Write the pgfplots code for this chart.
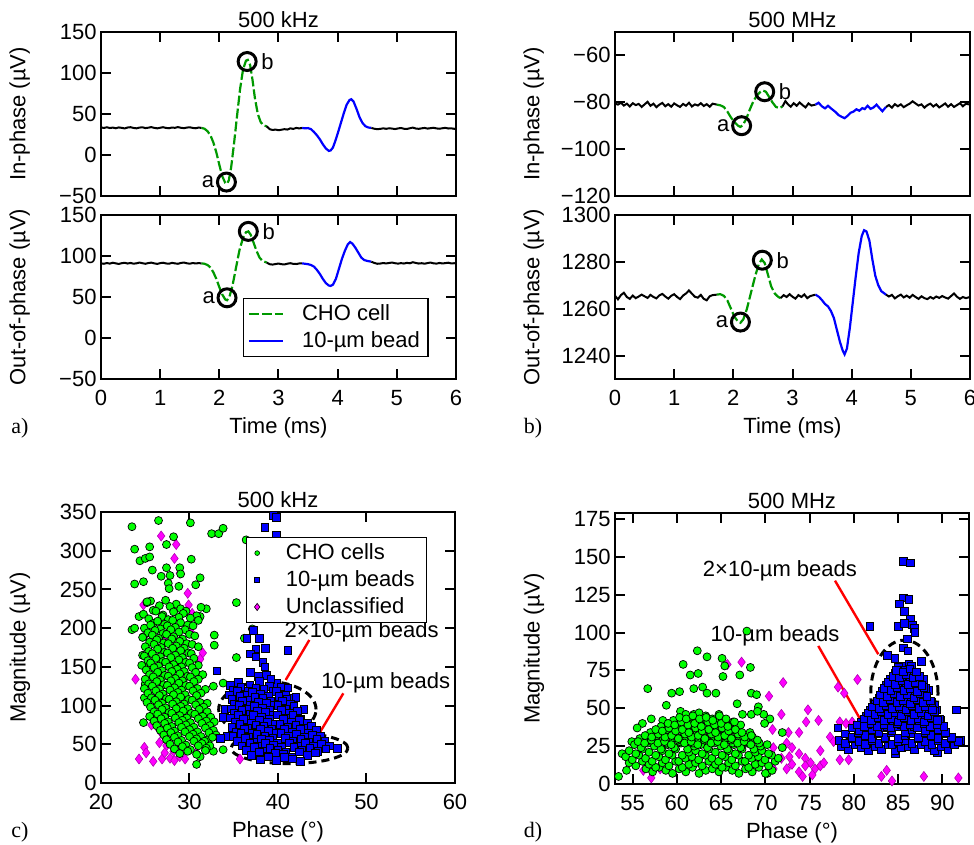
\documentclass[border=0pt]{standalone}
\usepackage{fontspec}
\setmainfont{Liberation Sans}
\newfontfamily\seriffont{Liberation Serif}
\usepackage{pgfplots}
\pgfplotsset{compat=1.18}

\definecolor{cgreen}{rgb}{0,0.6,0}
\definecolor{mgreen}{rgb}{0,1,0}
\definecolor{mmag}{rgb}{1,0,1}

\tikzset{
  ell/.style={black, line width=1.5pt, dash pattern=on 4pt off 2.5pt},
  ann/.style={red, line width=1.2pt},
}
\pgfplotsset{
  base/.style={scale only axis, axis line style={line width=1pt},
    tick style={line width=1pt, black}, major tick length=5pt, tick align=inside,
    font=\fontsize{11}{13}\selectfont,
    /pgf/number format/assume math mode=true, /pgf/number format/1000 sep={},
    scaled ticks=false,
    xticklabel style={yshift=-2pt}, yticklabel style={xshift=1.3pt},
    title style={at={(0.5,1)}, anchor=center, yshift=0pt}},
  trace/.style={base, width=177.5pt, height=82pt, xmin=0, xmax=6, xtick={0,...,6},
    ylabel style={at={(axis description cs:-0.229,0.5)}, anchor=center},
    xlabel style={at={(axis description cs:0.5,-0.30)}, anchor=center}},
  scat/.style={base, width=177pt, height=135.5pt,
    ylabel style={at={(axis description cs:-0.229,0.5)}, anchor=center},
    xlabel style={at={(axis description cs:0.5,-0.181)}, anchor=center}},
  bl/.style={black, line width=1pt, forget plot},
  cho/.style={color=cgreen, line width=1.1pt, dash pattern=on 5pt off 1.5pt},
  bead/.style={color=blue, line width=1.1pt},
  ab/.style={only marks, mark=o, mark size=4.5pt, mark options={line width=1.5pt, black}, forget plot},
  gm/.style={only marks, mark=*, mark size=2.0pt, mark options={fill=mgreen, draw=black, line width=0.35pt}, forget plot},
  bm/.style={only marks, mark=square*, mark size=1.9pt, mark options={fill=blue, draw=black, line width=0.35pt}, forget plot},
  mm/.style={only marks, mark=diamond*, mark size=2.5pt, mark options={fill=mmag, draw=mmag!70!black, line width=0.3pt}, forget plot},
  dotleg/.style={legend image code/.code={\draw[##1] plot coordinates {(0pt,0pt)};}},
}

\begin{document}
\begin{tikzpicture}

% ---------- a) 500 kHz traces ----------
\begin{axis}[trace, at={(50.5pt,324.5pt)}, anchor=south west,
  ymin=-50, ymax=150, ytick={-50,0,50,100,150}, yticklabels={−50,0,50,100,150},
  xticklabels={}, title={500 kHz}, ylabel={In-phase (µV)}]
\addplot[bl] coordinates {(0,33.5)(0.05,33)(0.1,33.8)(0.15,32.9)(0.2,33.4)(0.25,32.6)(0.3,33.6)(0.35,33.1)(0.4,32.4)(0.45,33.5)(0.5,33.9)(0.55,33)(0.6,32.5)(0.65,33.4)(0.7,33.8)(0.75,32.8)(0.8,33.3)(0.85,34)(0.9,33.1)(0.95,32.5)(1.0,33.2)(1.05,33.9)(1.1,33)(1.15,32.6)(1.2,33.5)(1.25,33.1)(1.3,34)(1.35,33.2)(1.4,32.7)(1.45,33.4)(1.5,33.8)(1.55,33)(1.6,32.6)(1.65,33.5)(1.7,33)};
\addplot[cho] coordinates {(1.70,33)(1.75,32)(1.80,29)(1.85,24)(1.90,15)(1.95,3)(2.00,-12)(2.05,-26)(2.10,-34)(2.13,-35)(2.16,-31)(2.20,-15)(2.25,15)(2.30,48)(2.35,80)(2.40,104)(2.45,115)(2.48,116)(2.52,110)(2.56,92)(2.60,70)(2.65,50)(2.70,40)(2.75,36)(2.80,35)};
\addplot[bl] coordinates {(2.8,35)(2.85,31.5)(2.9,30.5)(2.95,31)(3.0,30.2)(3.05,30.8)(3.1,31.5)(3.15,31)(3.2,32.5)(3.25,31.8)(3.3,33)(3.35,32.4)(3.4,33)};
\addplot[bead] coordinates {(3.4,33)(3.45,32.5)(3.5,32.8)(3.55,31.5)(3.6,28)(3.65,24)(3.7,19)(3.75,13)(3.8,8)(3.85,5)(3.88,5.5)(3.92,9)(3.96,17)(4.0,26)(4.05,38)(4.1,50)(4.15,61)(4.2,67)(4.23,68)(4.27,65)(4.32,56)(4.37,46)(4.42,39)(4.47,35)(4.52,33.5)(4.57,33)};
\addplot[bl] coordinates {(4.57,33)(4.62,32)(4.67,31.5)(4.72,31.8)(4.77,32.5)(4.82,31.9)(4.87,32.6)(4.92,32.2)(4.97,31.6)(5.02,32.4)(5.07,32.9)(5.12,32)(5.17,31.7)(5.22,32.6)(5.27,33.4)(5.32,32.3)(5.37,31.9)(5.42,32.5)(5.47,33)(5.52,32.2)(5.57,32.7)(5.62,33.2)(5.67,32.4)(5.72,32)(5.77,32.6)(5.82,33.1)(5.87,32.3)(5.92,32.5)(5.97,31.9)(6.0,32.2)};
\addplot[ab] coordinates {(2.12,-33)(2.47,114)};
\node[anchor=east, xshift=-2.6pt] at (axis cs:2.12,-33) {a};
\node[anchor=west, xshift=3.6pt] at (axis cs:2.47,114) {b};
\end{axis}

\begin{axis}[trace, at={(50.5pt,233pt)}, anchor=south west,
  ymin=-50, ymax=150, ytick={-50,0,50,100,150}, yticklabels={−50,0,50,100,150},
  xlabel={Time (ms)}, ylabel={Out-of-phase (µV)},
  legend style={at={(axis description cs:0.4,0.494)}, anchor=north west, draw=black,
    line width=0.7pt, fill=white, inner xsep=2pt, inner ysep=1pt},
  legend cell align=left]
\addplot[bl] coordinates {(0,91)(0.05,90.5)(0.1,91.4)(0.15,90.7)(0.2,91.8)(0.25,91)(0.3,90.3)(0.35,91.2)(0.4,91.7)(0.45,90.8)(0.5,91.5)(0.55,90.6)(0.6,91.1)(0.65,92)(0.7,91.2)(0.75,90.5)(0.8,91.4)(0.85,91.9)(0.9,91)(0.95,90.4)(1.0,91.3)(1.05,91.8)(1.1,90.9)(1.15,90.6)(1.2,91.6)(1.25,91)(1.3,90.5)(1.35,91.5)(1.4,92)(1.45,91.1)(1.5,90.6)(1.55,91.4)(1.6,90.9)(1.65,91.3)(1.7,91)};
\addplot[cho] coordinates {(1.70,91)(1.75,90.5)(1.80,89)(1.85,86)(1.9,80)(1.95,72)(2.0,62)(2.05,53)(2.1,47)(2.13,46)(2.17,50)(2.22,63)(2.28,85)(2.34,107)(2.4,122)(2.45,129)(2.49,130)(2.53,126)(2.58,116)(2.63,106)(2.68,98)(2.73,94)(2.8,92)};
\addlegendentry{\hspace*{7pt}CHO cell}
\addplot[bl] coordinates {(2.8,92)(2.85,90)(2.9,89.5)(2.95,90.2)(3.0,90.8)(3.05,90)(3.1,89.7)(3.15,90.6)(3.2,91.2)(3.25,90.4)(3.3,90.2)(3.35,90.9)(3.4,91)};
\addplot[bead] coordinates {(3.4,91)(3.45,90.5)(3.5,90)(3.55,89)(3.6,87)(3.65,83)(3.7,78)(3.75,72)(3.8,67)(3.85,64)(3.88,63.5)(3.92,65)(3.97,72)(4.02,84)(4.07,96)(4.12,106)(4.17,114)(4.21,117)(4.25,115)(4.3,110)(4.35,104)(4.4,98)(4.45,95)(4.5,94)(4.57,93)};
\addlegendentry{\hspace*{7pt}10-µm bead}
\addplot[bl] coordinates {(4.57,93)(4.62,91.5)(4.67,90.5)(4.72,90.8)(4.77,91.4)(4.82,90.9)(4.87,91.5)(4.92,92)(4.97,91.2)(5.02,90.7)(5.07,91.3)(5.12,90.8)(5.17,91.6)(5.22,91.1)(5.27,92.4)(5.32,91.5)(5.37,90.8)(5.42,91.2)(5.47,90.6)(5.52,91.4)(5.57,92)(5.62,91.1)(5.67,90.7)(5.72,91.5)(5.77,90.9)(5.82,91.3)(5.87,91.8)(5.92,90.9)(5.97,91.2)(6.0,91)};
\addplot[ab] coordinates {(2.13,49)(2.49,130)};
\node[anchor=east, xshift=-2.6pt] at (axis cs:2.13,49) {a};
\node[anchor=west, xshift=3.6pt] at (axis cs:2.49,130) {b};
\end{axis}

% ---------- b) 500 MHz traces ----------
\begin{axis}[trace, at={(307.5pt,324.5pt)}, anchor=south west,
  ymin=-120, ymax=-50, ytick={-120,-100,-80,-60}, yticklabels={−120,−100,−80,−60},
  xticklabels={}, title={500 MHz}, ylabel={In-phase (µV)}]
\addplot[bl] coordinates {(0,-80.5)(0.05,-81)(0.1,-80.2)(0.15,-81.4)(0.2,-80.6)(0.25,-81.8)(0.3,-80.4)(0.35,-81.2)(0.4,-80.7)(0.45,-82)(0.5,-80.9)(0.55,-79.8)(0.6,-81.5)(0.65,-80.6)(0.7,-82.1)(0.75,-81)(0.8,-80.3)(0.85,-81.7)(0.9,-80.8)(0.95,-81.9)(1.0,-80.5)(1.05,-81.3)(1.1,-82)(1.15,-80.7)(1.2,-81.5)(1.25,-80.2)(1.3,-81.8)(1.35,-80.9)(1.4,-81.4)(1.45,-80.4)(1.5,-81.6)(1.55,-80.8)(1.6,-81.9)(1.65,-80.6)(1.72,-81)};
\addplot[cho, forget plot] coordinates {(1.72,-81)(1.78,-81.3)(1.84,-82)(1.9,-84)(1.96,-86.5)(2.02,-88.5)(2.08,-90)(2.12,-90.5)(2.16,-89.8)(2.22,-87)(2.28,-83)(2.34,-79.5)(2.4,-77)(2.46,-75.5)(2.5,-75)(2.55,-75.5)(2.6,-77.5)(2.66,-80)(2.72,-82)(2.78,-82.5)(2.83,-81.8)};
\addplot[bl] coordinates {(2.83,-81.8)(2.88,-79.5)(2.92,-80.8)(2.97,-81.9)(3.02,-80.4)(3.07,-81.5)(3.12,-80.1)(3.17,-81.2)(3.22,-82.2)(3.27,-80.5)(3.32,-81.4)(3.39,-81)};
\addplot[bead, forget plot] coordinates {(3.39,-81)(3.44,-80.2)(3.5,-81.8)(3.55,-82.6)(3.6,-81.5)(3.66,-82.8)(3.72,-84)(3.78,-85.5)(3.83,-86.2)(3.88,-86.8)(3.93,-85.8)(3.98,-84.5)(4.03,-84)(4.08,-83)(4.13,-83.6)(4.18,-82.5)(4.22,-82.9)(4.27,-81.5)(4.32,-82.8)(4.37,-82.2)(4.42,-81)(4.47,-82.5)(4.52,-83.8)(4.58,-82)};
\addplot[bl] coordinates {(4.58,-82)(4.63,-81.2)(4.68,-82.3)(4.73,-80.8)(4.78,-81.7)(4.83,-80.9)(4.88,-82.1)(4.93,-81.3)(4.98,-80.6)(5.03,-79.6)(5.08,-80.5)(5.13,-81.4)(5.18,-80.9)(5.23,-82.3)(5.28,-81.2)(5.33,-80.6)(5.38,-81.8)(5.43,-80.9)(5.48,-82.2)(5.53,-81.4)(5.58,-80.5)(5.63,-81.9)(5.68,-80.8)(5.73,-82)(5.78,-81.2)(5.83,-80.4)(5.88,-81.7)(5.93,-80.6)(6.0,-81)};
\addplot[ab] coordinates {(2.14,-90)(2.53,-75.5)};
\node[anchor=east, xshift=-2.6pt] at (axis cs:2.14,-90) {a};
\node[anchor=west, xshift=3.6pt] at (axis cs:2.53,-75.5) {b};
\end{axis}

\begin{axis}[trace, at={(307.5pt,233pt)}, anchor=south west,
  ymin=1230, ymax=1300, ytick={1240,1260,1280,1300},
  xlabel={Time (ms)}, ylabel={Out-of-phase (µV)}]
\addplot[bl] coordinates {(0,1265.5)(0.05,1264)(0.1,1265.8)(0.15,1266.8)(0.2,1265)(0.25,1264.2)(0.3,1265.6)(0.35,1264.5)(0.4,1265.2)(0.45,1266)(0.5,1265.3)(0.55,1264.6)(0.6,1265.9)(0.65,1265)(0.7,1264.4)(0.75,1265.7)(0.8,1266.3)(0.85,1265.2)(0.9,1264.3)(0.95,1265.5)(1.0,1266.2)(1.05,1265)(1.1,1264.1)(1.15,1265.6)(1.2,1266.5)(1.25,1267.8)(1.3,1266.4)(1.35,1265.1)(1.4,1264.7)(1.45,1265.9)(1.5,1264.2)(1.55,1263.6)(1.6,1265.3)(1.65,1265.8)(1.72,1266)};
\addplot[cho, forget plot] coordinates {(1.72,1266)(1.78,1266.2)(1.84,1265.5)(1.9,1263.5)(1.96,1260)(2.02,1256.5)(2.08,1254.5)(2.12,1254)(2.17,1255.5)(2.23,1260)(2.3,1267)(2.37,1274)(2.43,1279)(2.48,1281)(2.53,1279.5)(2.58,1275)(2.64,1269.5)(2.7,1266.5)(2.76,1265)(2.8,1264.5)};
\addplot[bl] coordinates {(2.8,1264.5)(2.85,1265.8)(2.9,1265)(2.95,1266.2)(3.0,1265.1)(3.05,1264.3)(3.1,1265.8)(3.15,1265)(3.2,1266.1)(3.25,1264.5)(3.3,1265.4)(3.39,1266)};
\addplot[bead, forget plot] coordinates {(3.39,1266)(3.45,1265)(3.5,1263.6)(3.55,1262)(3.6,1261)(3.65,1259)(3.7,1256)(3.75,1251)(3.8,1246)(3.85,1242)(3.88,1240.5)(3.92,1243)(3.97,1252)(4.02,1263)(4.07,1274)(4.12,1284)(4.17,1291)(4.21,1293.5)(4.25,1293)(4.3,1289)(4.35,1281)(4.4,1274)(4.45,1270)(4.5,1267.5)(4.58,1266)};
\addplot[bl] coordinates {(4.58,1266)(4.63,1265.2)(4.68,1265.9)(4.73,1264.4)(4.78,1265.3)(4.83,1266)(4.88,1264.8)(4.93,1265.6)(4.98,1264.7)(5.03,1265.9)(5.08,1265)(5.13,1264.2)(5.18,1265.3)(5.23,1264.5)(5.28,1264.1)(5.33,1265)(5.38,1264.3)(5.43,1265.2)(5.48,1264.6)(5.53,1265.4)(5.58,1264.8)(5.63,1264.3)(5.68,1265.4)(5.73,1266.5)(5.78,1265.1)(5.83,1264.2)(5.88,1265)(5.93,1264.5)(6.0,1265)};
\addplot[ab] coordinates {(2.12,1254.3)(2.49,1280.7)};
\node[anchor=east, xshift=-2.6pt] at (axis cs:2.12,1254.3) {a};
\node[anchor=west, xshift=3.6pt] at (axis cs:2.49,1280.7) {b};
\end{axis}

% ---------- c) 500 kHz scatter ----------
\begin{axis}[scat, at={(50.5pt,31pt)}, anchor=south west,
  xmin=20, xmax=60, xtick={20,30,...,60}, ymin=0, ymax=350, ytick={0,50,...,350},
  title={500 kHz}, xlabel={Phase (°)}, ylabel={Magnitude (µV)},
  legend style={at={(axis description cs:0.409,0.908)}, anchor=north west, draw=black,
    line width=0.7pt, fill=white, inner xsep=4pt, inner ysep=1pt},
  legend cell align=left]
\addplot[mm] coordinates {(26.8,319)(28.5,308)(28.3,290)(28.9,271)(29.8,245)(29.9,230)(24.8,230)(30.3,219)(30.2,194)(27.2,187)(31.5,168)(31.2,160)(23.9,134)(26.3,73)(25.7,75)(26.8,65)(27.4,54)(26.6,52)(27.4,48)(24.9,46)(25.1,39)(24.3,31)(25.9,28)(26.9,31)(27.2,39)(27.8,32)(28.2,41)(28.3,29)(28.7,45)(28.9,34)(29.5,31)(30.8,39)(35.7,31)(29.5,43)};
\addplot[gm] coordinates {(23.5,331)(26.5,339)(30.1,336)(32.5,322)(33.3,322)(33.8,329)(23.8,302)(25.5,305)(24.4,287)(25.0,290)(25.5,292)(27.4,308)(28.2,318)(30.2,289)(25.8,275)(26.8,267)(27.4,278)(27.8,268)(28.9,278)(29.0,270)(23.8,257)(24.8,260)(27.6,258)(27.7,251)(28.8,254)(30.7,256)(31.2,265)(35.3,233)(23.5,198)(23.8,200)(24.3,215)(24.8,189)(25.2,233)(25.6,235)(31.9,225)(31.2,215)(32.8,191)(32.8,178)(35.3,162)(37.1,199)(36.2,187)(38.6,215)(36.4,314)(32.7,125)(33.8,129)(30.8,24)(31.2,34)(33.8,43)(32.7,41)(32.1,56)(24.8,78)(25.0,128)(24.7,165)(25.2,150)(24.9,110)
(25.2,234)(26.6,229)(27.3,236)(28.5,231)
(25.9,223)(27.8,228)(29.0,225)(29.6,222)(31.3,227)
(24.8,218)(26.2,222)(27.0,217)(28.2,221)(29.3,219)(30.8,216)
(25.4,212)(26.9,215)(27.6,211)(28.8,214)(30.1,213)(31.0,210)
(25.9,206)(26.4,209)(27.2,205)(28.1,210)(29.0,207)(29.8,204)
(24.9,200)(25.6,204)(26.7,199)(27.5,203)(28.4,201)(29.5,198)(30.4,203)
(25.3,194)(26.1,197)(27.0,193)(27.9,198)(28.8,195)(30.0,192)
(24.7,188)(25.8,191)(26.5,187)(27.4,192)(28.2,189)(29.2,186)(30.6,190)
(25.5,182)(26.3,185)(27.1,181)(28.0,186)(28.9,183)(29.7,180)
(25.0,176)(26.0,179)(26.8,175)(27.6,180)(28.5,177)(29.4,174)(30.3,179)(31.0,176)
(25.4,170)(26.4,173)(27.2,169)(28.1,174)(29.0,171)(29.9,168)
(24.9,164)(25.8,167)(26.7,163)(27.5,168)(28.4,165)(29.2,162)(30.2,167)
(25.3,158)(26.2,161)(27.0,157)(27.9,162)(28.8,159)(29.6,156)(30.5,161)
(24.6,152)(25.6,155)(26.5,151)(27.3,156)(28.2,153)(29.1,150)(30.0,155)(31.0,152)
(25.1,146)(26.0,149)(26.9,145)(27.7,150)(28.6,147)(29.4,144)(30.3,149)
(25.5,140)(26.4,143)(27.2,139)(28.0,144)(28.9,141)(29.8,138)(30.7,143)(31.5,140)
(25.0,134)(25.9,137)(26.7,133)(27.6,138)(28.4,135)(29.2,132)(30.1,137)(31.0,134)
(25.4,128)(26.3,131)(27.1,127)(27.9,132)(28.8,129)(29.6,126)(30.5,131)
(24.9,122)(25.8,125)(26.6,121)(27.5,126)(28.3,123)(29.1,120)(30.0,125)(30.9,122)(31.8,121)
(25.3,116)(26.2,119)(27.0,115)(27.8,120)(28.7,117)(29.5,114)(30.4,119)(31.3,116)
(25.7,110)(26.6,113)(27.4,109)(28.2,114)(29.0,111)(29.9,108)(30.8,113)
(25.2,104)(26.1,107)(26.9,103)(27.7,108)(28.5,105)(29.4,102)(30.3,107)(31.2,104)(32.0,103)
(25.6,98)(26.5,101)(27.3,97)(28.1,102)(29.0,99)(29.8,96)(30.7,101)(31.6,98)
(26.0,92)(26.9,95)(27.7,91)(28.5,96)(29.3,93)(30.2,90)(31.1,95)(32.0,92)
(25.5,86)(26.4,89)(27.2,85)(28.0,90)(28.9,87)(29.7,84)(30.6,89)(31.5,86)(32.4,85)
(26.0,80)(26.8,83)(27.6,79)(28.4,84)(29.2,81)(30.1,78)(31.0,83)(31.9,80)(32.8,79)
(26.3,74)(27.2,77)(28.0,73)(28.8,78)(29.6,75)(30.5,72)(31.4,77)(32.3,74)
(26.7,68)(27.5,71)(28.3,67)(29.1,72)(30.0,69)(30.9,66)(31.8,71)(32.7,68)
(27.1,62)(27.9,65)(28.7,61)(29.5,66)(30.4,63)(31.3,60)(32.2,65)(33.0,62)
(27.4,56)(28.3,59)(29.1,55)(30.0,60)(30.8,57)(31.7,54)(32.6,59)
(27.8,50)(28.7,53)(29.6,49)(30.5,54)(31.4,51)(32.3,48)
(28.3,44)(29.2,47)(30.1,43)(31.0,48)(31.9,45)
(28.9,38)(29.8,41)(30.8,37)(31.8,42)};
\draw[ell] (axis cs:38.8,95) ellipse [x radius=5.5, y radius=36];
\draw[ell] (axis cs:41.3,45) ellipse [x radius=6.6, y radius=20];
\addplot[bm] coordinates {(39.5,346)(39.8,343)(38.5,330)(39.8,320)(37.2,197)(36.5,187)(37.9,187)(37.5,173)(38.6,174)(36.9,167)(37.5,163)(41.1,171)(38.3,156)(38.5,150)(36.9,143)(33.1,145)(37.8,138)(38.7,139)(39.8,129)(39.2,134)(41.1,123)(41.4,110)(43.8,73)(46.7,45)(44.8,56)(34.0,95)(33.8,85)(34.2,60)(33.5,58)
(34.6,126)(35.5,130)(36.8,127)(37.9,131)(39.0,125)
(34.9,120)(35.8,124)(36.6,119)(37.5,123)(38.4,121)(39.4,118)(40.3,124)
(34.5,114)(35.4,118)(36.2,113)(37.1,117)(38.0,115)(38.9,112)(39.8,118)(40.8,114)
(34.8,108)(35.7,112)(36.6,107)(37.4,111)(38.3,109)(39.2,106)(40.1,112)(41.0,108)(42.0,111)
(35.1,102)(36.0,106)(36.9,101)(37.8,105)(38.7,103)(39.6,100)(40.5,106)(41.4,102)
(34.7,96)(35.6,100)(36.4,95)(37.3,99)(38.2,97)(39.1,94)(40.0,100)(40.9,96)(41.8,99)(42.9,95)
(35.0,90)(35.9,94)(36.8,89)(37.7,93)(38.6,91)(39.5,88)(40.4,94)(41.3,90)(42.2,93)
(34.6,84)(35.5,88)(36.3,83)(37.2,87)(38.1,85)(39.0,82)(39.9,88)(40.8,84)(41.7,87)(42.6,83)
(35.2,78)(36.1,82)(37.0,77)(37.9,81)(38.8,79)(39.7,76)(40.6,82)(41.5,78)(42.4,81)(43.3,77)
(34.8,72)(35.7,76)(36.6,71)(37.5,75)(38.4,73)(39.3,70)(40.2,76)(41.1,72)(42.0,75)(42.9,71)(43.8,74)
(35.3,66)(36.2,70)(37.1,65)(38.0,69)(38.9,67)(39.8,64)(40.7,70)(41.6,66)(42.5,69)(43.4,65)(44.3,68)
(34.9,60)(35.8,64)(36.7,59)(37.6,63)(38.5,61)(39.4,58)(40.3,64)(41.2,60)(42.1,63)(43.0,59)(43.9,62)(44.8,60)
(35.4,54)(36.3,58)(37.2,53)(38.1,57)(39.0,55)(39.9,52)(40.8,58)(41.7,54)(42.6,57)(43.5,53)(44.4,56)(45.3,54)
(35.9,48)(36.8,52)(37.7,47)(38.6,51)(39.5,49)(40.4,46)(41.3,52)(42.2,48)(43.1,51)(44.0,47)(44.9,50)(45.8,48)
(36.4,42)(37.3,46)(38.2,41)(39.1,45)(40.0,43)(40.9,40)(41.8,46)(42.7,42)(43.6,45)(44.5,41)(45.4,44)
(37.0,36)(37.9,40)(38.8,35)(39.7,39)(40.6,37)(41.5,34)(42.4,40)(43.3,36)(44.2,39)
(38.0,30)(38.9,34)(39.8,29)(40.7,33)(41.6,31)(42.5,28)};
\addlegendimage{only marks, mark=*, mark size=1.2pt, mark options={fill=mgreen, draw=black, line width=0.3pt}, dotleg}
\addlegendentry{\hspace*{11pt}CHO cells}
\addlegendimage{only marks, mark=square*, mark size=1.25pt, mark options={fill=blue, draw=black, line width=0.3pt}, dotleg}
\addlegendentry{\hspace*{11pt}10-µm beads}
\addlegendimage{only marks, mark=diamond*, mark size=1.8pt, mark options={fill=mmag, draw=black, line width=0.3pt}, dotleg}
\addlegendentry{\hspace*{11pt}Unclassified}
\draw[ann] (axis cs:43.54,184.7) -- (axis cs:40.87,133.0);
\draw[ann] (axis cs:47.38,115.8) -- (axis cs:44.67,64.2);
\node at (axis cs:49.46,195.4) {2×10-µm beads};
\node at (axis cs:52.17,129.5) {10-µm beads};
\end{axis}

% ---------- d) 500 MHz scatter ----------
\begin{axis}[scat, at={(307.5pt,30.5pt)}, anchor=south west,
  xmin=53, xmax=93, xtick={55,60,...,90}, ymin=0, ymax=179, ytick={0,25,...,175},
  title={500 MHz}, xlabel={Phase (°)}, ylabel={Magnitude (µV)}]
\addplot[mm] coordinates {(65.7,79)(67.3,80.5)(70.4,58)(72.0,67)(71.8,46)(70.8,36)(72.6,34)(73.8,34)(76.0,42)(74.8,49)(74.6,41)(78.2,64)(78.9,60)(80.4,69)(78.4,41)(79.8,41)(77.3,31)(77.7,28)(76.2,22)(72.4,27)(73.0,24)(73.8,20)(72.7,18)(74.5,17)(75.1,14)(75.6,10)(74.5,12)(73.8,8)(73.0,13)(72.4,10)(75.3,6)(74.2,5)(71.8,17)(70.9,10)(76.2,12)(76.6,14)(78.4,16)(79.4,16)(57.1,4)(56.2,9)(58.1,10)(83.1,5)(83.7,9)(84.3,2)(87.9,5)(91.8,4)(79.1,40)(70.9,24)};
\addplot[gm] coordinates {(62.3,88)(63.4,84)(65.1,83)(65.4,78)(60.7,79)(67.9,101)(61.5,72)(62.4,73)(67.1,72)(68.3,77)(65.2,71)(61.9,63)(62.9,64)(63.4,60)(64.4,60)(60.3,61)(59.4,60)(56.7,63)(58.8,52)(68.4,60)(69.0,59)(69.2,51)(70.5,43)(69.9,40)(69.8,46)(66.8,53)(67.4,46)(68.4,46)(69.1,48)(56.1,40)(57.1,43)(58.4,42)(60.4,48)(61.9,46)(59.0,38)(53.8,20)(53.4,5)(54.3,9)(71.9,34)(71.9,24)(70.2,7)(55.5,37)(54.9,28)
(56.5,10)(57.25,8)(58,11)(58.75,9)(59.5,7)(60.25,10)(61,8)(61.75,11)(62.5,7)(63.25,9)(64,10)(64.75,8)(65.5,11)(66.25,9)(67,7)(67.75,10)(68.5,8)(69.25,11)(70,7)(70.75,9)
(54.6,14)(55.35,12)(56.1,15)(56.85,13)(57.6,11)(58.35,14)(59.1,12)(59.85,15)(60.6,11)(61.35,13)(62.1,14)(62.85,12)(63.6,15)(64.35,13)(65.1,11)(65.85,14)(66.6,12)(67.35,15)(68.1,11)(68.85,13)(69.6,14)(70.35,12)(71.1,15)
(54.2,18)(54.95,16)(55.7,19)(56.45,17)(57.2,15)(57.95,18)(58.7,16)(59.45,19)(60.2,15)(60.95,17)(61.7,18)(62.45,16)(63.2,19)(63.95,17)(64.7,15)(65.45,18)(66.2,16)(66.95,19)(67.7,15)(68.45,17)(69.2,18)(69.95,16)(70.7,19)(71.45,17)
(54.6,22)(55.35,20)(56.1,23)(56.85,21)(57.6,19)(58.35,22)(59.1,20)(59.85,23)(60.6,19)(61.35,21)(62.1,22)(62.85,20)(63.6,23)(64.35,21)(65.1,19)(65.85,22)(66.6,20)(67.35,23)(68.1,19)(68.85,21)(69.6,22)(70.35,20)
(55.2,26)(55.95,24)(56.7,27)(57.45,25)(58.2,23)(58.95,26)(59.7,24)(60.45,27)(61.2,23)(61.95,25)(62.7,26)(63.45,24)(64.2,27)(64.95,25)(65.7,23)(66.45,26)(67.2,24)(67.95,27)(68.7,23)(69.45,25)(70.2,26)
(55.8,30)(56.55,28)(57.3,31)(58.05,29)(58.8,27)(59.55,30)(60.3,28)(61.05,31)(61.8,27)(62.55,29)(63.3,30)(64.05,28)(64.8,31)(65.55,29)(66.3,27)(67.05,30)(67.8,28)(68.55,31)(69.3,27)
(57,34)(57.75,32)(58.5,35)(59.25,33)(60,31)(60.75,34)(61.5,32)(62.25,35)(63,31)(63.75,33)(64.5,34)(65.25,32)(66,35)(66.75,33)(67.5,31)(68.25,34)
(58.2,38)(58.95,36)(59.7,39)(60.45,37)(61.2,35)(61.95,38)(62.7,36)(63.45,39)(64.2,35)(64.95,37)(65.7,38)(66.45,36)(67.2,39)
(59.6,42)(60.35,40)(61.1,43)(61.85,41)(62.6,39)(63.35,42)(64.1,40)(64.85,43)(65.6,39)(66.35,41)
(61,46)(61.75,44)(62.5,47)(63.25,45)(64,43)(64.75,46)
(55.6,28)(56.35,27)(57.1,29)(57.85,27)(58.6,28)(59.35,26)(60.1,29)(60.85,27)(61.6,28)(62.35,26)(63.1,29)(63.85,27)(64.6,28)(65.35,26)(66.1,29)(66.85,27)(67.6,28)(68.35,26)(69.1,29)
(56.4,32)(57.15,31)(57.9,33)(58.65,31)(59.4,32)(60.15,30)(60.9,33)(61.65,31)(62.4,32)(63.15,30)(63.9,33)(64.65,31)(65.4,32)(66.15,30)(66.9,33)(67.65,31)(68.4,32)
(57.6,36)(58.35,35)(59.1,37)(59.85,35)(60.6,36)(61.35,34)(62.1,37)(62.85,35)(63.6,36)(64.35,34)(65.1,37)(65.85,35)(66.6,36)(67.35,34)
(59.0,40)(59.75,39)(60.5,41)(61.25,39)(62.0,40)(62.75,38)(63.5,41)(64.25,39)(65.0,40)(65.75,38)(66.5,41)
(60.3,44)(61.05,43)(61.8,45)(62.55,43)(63.3,44)(64.05,42)(64.8,45)(65.55,43)};
\draw[ell] (axis cs:85.7,60) ellipse [x radius=3.8, y radius=35];
\draw[ell] (axis cs:84.5,33) ellipse [x radius=5.5, y radius=9];
\addplot[bm] coordinates {(85.6,147)(86.4,146)(81.8,104)(85.6,123)(86.2,122)(85.1,119)(85.7,114)(85.0,104)(86.4,109)(86.6,105)(86.8,103)(86.9,100)(85.7,106)(86.0,96)(85.6,90)(86.1,88)(83.8,85)(84.6,83)(87.6,81)(85.4,78)(86.2,79)(78.2,37)(91.6,49)(92.0,29)(84.7,20)(89.4,21)
(78.6,25)(79.35,23)(80.1,26)(80.85,24)(81.6,22)(82.35,25)(83.1,23)(83.85,26)(84.6,22)(85.35,24)(86.1,25)(86.85,23)(87.6,26)(88.35,24)(89.1,22)(89.85,25)(90.6,23)(91.35,26)
(78.3,29)(79.05,27)(79.8,30)(80.55,28)(81.3,26)(82.05,29)(82.8,27)(83.55,30)(84.3,26)(85.05,28)(85.8,29)(86.55,27)(87.3,30)(88.05,28)(88.8,26)(89.55,29)(90.3,27)(91.05,30)(91.8,28)
(79,33)(79.75,31)(80.5,34)(81.25,32)(82,30)(82.75,33)(83.5,31)(84.25,34)(85,30)(85.75,32)(86.5,33)(87.25,31)(88,34)(88.75,32)(89.5,30)(90.25,33)(91,31)
(79.8,37)(80.55,35)(81.3,38)(82.05,36)(82.8,34)(83.55,37)(84.3,35)(85.05,38)(85.8,34)(86.55,36)(87.3,37)(88.05,35)(88.8,38)(89.55,36)(90.3,34)
(80.8,41)(81.55,39)(82.3,42)(83.05,40)(83.8,38)(84.55,41)(85.3,39)(86.05,42)(86.8,38)(87.55,40)(88.3,41)(89.05,39)(89.8,42)
(81.4,45)(82.15,43)(82.9,46)(83.65,44)(84.4,42)(85.15,45)(85.9,43)(86.65,46)(87.4,42)(88.15,44)(88.9,45)(89.65,43)
(81.8,49)(82.55,47)(83.3,50)(84.05,48)(84.8,46)(85.55,49)(86.3,47)(87.05,50)(87.8,46)(88.55,48)(89.3,49)
(82.4,53)(83.15,51)(83.9,54)(84.65,52)(85.4,50)(86.15,53)(86.9,51)(87.65,54)(88.4,50)(89.15,52)
(82.8,57)(83.55,55)(84.3,58)(85.05,56)(85.8,54)(86.55,57)(87.3,55)(88.05,58)(88.8,54)
(83.2,61)(83.95,59)(84.7,62)(85.45,60)(86.2,58)(86.95,61)(87.7,59)(88.45,62)
(83.6,65)(84.35,63)(85.1,66)(85.85,64)(86.6,62)(87.35,65)(88.1,63)
(84.1,69)(84.85,67)(85.6,70)(86.35,68)(87.1,66)(87.85,69)
(84.6,73)(85.35,71)(86.1,74)(86.85,72)
(85,77)(85.75,75)(86.5,78)
(80.4,39)(81.15,38)(81.9,40)(82.65,38)(83.4,39)(84.15,37)(84.9,40)(85.65,38)(86.4,39)(87.15,37)(87.9,40)(88.65,38)(89.4,39)(90.15,38)
(81.2,43)(81.95,42)(82.7,44)(83.45,42)(84.2,43)(84.95,41)(85.7,44)(86.45,42)(87.2,43)(87.95,41)(88.7,44)(89.45,42)
(81.6,47)(82.35,46)(83.1,48)(83.85,46)(84.6,47)(85.35,45)(86.1,48)(86.85,46)(87.6,47)(88.35,45)(89.1,48)
(82.1,51)(82.85,50)(83.6,52)(84.35,50)(85.1,51)(85.85,49)(86.6,52)(87.35,50)(88.1,51)(88.85,49)
(82.6,55)(83.35,54)(84.1,56)(84.85,54)(85.6,55)(86.35,53)(87.1,56)(87.85,54)(88.6,55)
(83.0,59)(83.75,58)(84.5,60)(85.25,58)(86.0,59)(86.75,57)(87.5,60)(88.25,58)
(83.4,63)(84.15,62)(84.9,64)(85.65,62)(86.4,63)(87.15,61)(87.9,64)
(83.9,67)(84.65,66)(85.4,68)(86.15,66)(86.9,67)(87.65,65)
(84.4,71)(85.15,70)(85.9,72)(86.65,70)(87.4,71)
(84.8,75)(85.55,74)(86.3,76)(87.05,74)};
\draw[ann] (axis cs:77.86,134.3) -- (axis cs:82.75,85.7);
\draw[ann] (axis cs:75.97,91.2) -- (axis cs:81.06,39.2);
\node at (axis cs:71.64,141.0) {2×10-µm beads};
\node at (axis cs:71.08,97.8) {10-µm beads};
\end{axis}

\node[font=\seriffont\fontsize{11}{13}\selectfont] at (10pt,208.5pt) {a)};
\node[font=\seriffont\fontsize{11}{13}\selectfont] at (266.5pt,208.5pt) {b)};
\node[font=\seriffont\fontsize{11}{13}\selectfont] at (10pt,6.5pt) {c)};
\node[font=\seriffont\fontsize{11}{13}\selectfont] at (266.5pt,6.5pt) {d)};

\pgfresetboundingbox
\path[use as bounding box] (0,0) rectangle (487pt,422.5pt);
\end{tikzpicture}
\end{document}
